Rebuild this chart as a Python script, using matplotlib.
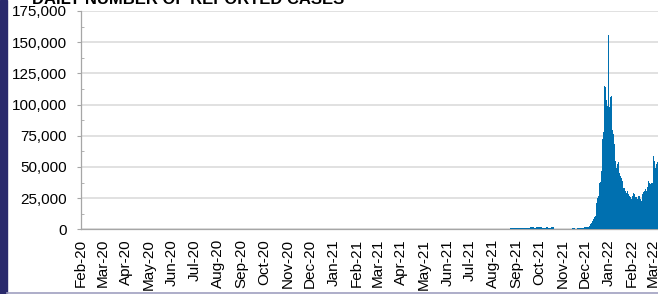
"""Daily number of reported cases, bar chart with a monthly date axis.
"""

import numpy as np
import pandas as pd
import matplotlib
matplotlib.use("Agg")
import matplotlib.pyplot as plt
import matplotlib.dates as mdates
from matplotlib.ticker import MultipleLocator, FuncFormatter
from matplotlib.patches import Rectangle
from matplotlib.lines import Line2D

plt.rcParams["font.family"] = ["Liberation Sans", "DejaVu Sans"]

# daily reported cases, first non-zero day is 10 Aug 2021
first_day = "2021-08-10"
aug21 = [150, 200, 250, 200, 300, 250, 300, 350, 300, 250, 300, 350, 400,
         800, 900, 850, 1000, 900, 950, 1000, 900, 1100]
sep21 = [1000, 950, 1050, 1100, 1000, 900, 1000, 1050, 700, 500,
         1000, 1100, 1200, 1150, 1200, 1100, 1200, 1300, 1800, 1900,
         1700, 1800, 1600, 1300, 1200, 1300, 1800, 1900, 1850, 1900]
oct21 = [1900, 1800, 1700, 1300, 1200, 1300, 1250, 1200, 1300, 1800,
         1900, 1700, 1300, 1200, 1250, 1300, 1700, 1800, 1750, 1200,
         300, 250, 300, 250, 200, 300, 250, 200, 250, 300, 250]
nov21 = [250, 300, 250, 200, 250, 300, 250, 300, 250, 300, 350, 300,
         900, 1000, 950, 850, 300, 350, 400, 900, 1000, 1100, 1000,
         1200, 1300, 1250, 1400, 1300, 1500, 1400]
dec21 = [1500, 1800, 1700, 2000, 2200, 2500, 3500, 4000, 5000, 7000,
         8000, 8500, 10000, 10500, 11000, 21000, 25000, 27000, 36000, 37000,
         38000, 47000, 48000, 72000, 78000, 115000, 114000, 100000, 104000,
         99000, 156000]
jan22 = [101000, 98000, 106000, 107000, 84000, 80000, 76000, 68000, 64000,
         55000, 49500, 52000, 53500, 54000, 45000, 43000, 36000, 41000,
         39000, 33500, 33000, 30000, 31000, 29000, 31000, 30000, 28000,
         27000, 25500, 26000, 24000]
feb22 = [27000, 29500, 28500, 28000, 25500, 26000, 23500, 24000, 27000,
         26500, 25500, 24000, 23000, 26000, 28000, 30000, 31000, 32000,
         30000, 31000, 34000, 36000, 38500, 37000, 36000, 35000, 37000, 37000]
mar22 = [59000, 55000, 53500, 49500, 52000, 54000, 53000, 52000, 50000, 48000]

cases = aug21 + sep21 + oct21 + nov21 + dec21 + jan22 + feb22 + mar22
days = pd.date_range(first_day, periods=len(cases), freq="D")

W, H = 658, 294
fig = plt.figure(figsize=(W / 100, H / 100), dpi=100)

# axes runs past the right edge of the picture, as in the original
x0, x1 = pd.Timestamp("2020-02-01"), pd.Timestamp("2022-04-01")
ax_w = (x1 - x0).days * 0.7536
ax = fig.add_axes([81 / W, (H - 229.3) / H, ax_w / W, 218.3 / H])

# slightly wider than a day so neighbouring bars close up without seams
ax.bar(days, cases, width=1.25, align="edge", color="#0070B0",
       linewidth=0, zorder=3)

ax.set_xlim(x0, x1)
ax.set_ylim(0, 175000)
ax.yaxis.set_major_locator(MultipleLocator(25000))
ax.yaxis.set_minor_locator(MultipleLocator(12500))
ax.yaxis.set_major_formatter(FuncFormatter(lambda v, p: f"{v:,.0f}"))
ax.xaxis.set_major_locator(mdates.MonthLocator())
ax.xaxis.set_major_formatter(mdates.DateFormatter("%b-%y"))

ax.grid(axis="y", which="major", color="#D9D9D9", linewidth=1.1, zorder=0)
for s in ["top", "right"]:
    ax.spines[s].set_visible(False)
for s in ["left", "bottom"]:
    ax.spines[s].set_color("#A6A6A6")
    ax.spines[s].set_linewidth(0.9)

ax.tick_params(axis="y", which="major", direction="out", length=3,
               color="#A6A6A6", labelsize=11, pad=7)
ax.tick_params(axis="y", which="minor", direction="in", length=2.5,
               color="#A6A6A6")
ax.tick_params(axis="x", length=0, labelsize=11, pad=7, labelrotation=90)

# left navy band and bottom frame line of the slide
fig.patches.append(Rectangle((0, 0), 7 / W, 1, transform=fig.transFigure,
                             color="#2A2A6C", zorder=0))
fig.lines.append(Line2D([7 / W, 1], [1.5 / H, 1.5 / H],
                        transform=fig.transFigure, color="#A0A0C0",
                        linewidth=1.2))

fig.text(32 / W, 1 - 4.5 / H, "DAILY NUMBER OF REPORTED CASES",
         fontsize=12, fontweight="bold", va="baseline", ha="left")

fig.savefig("out.png", dpi=100)
